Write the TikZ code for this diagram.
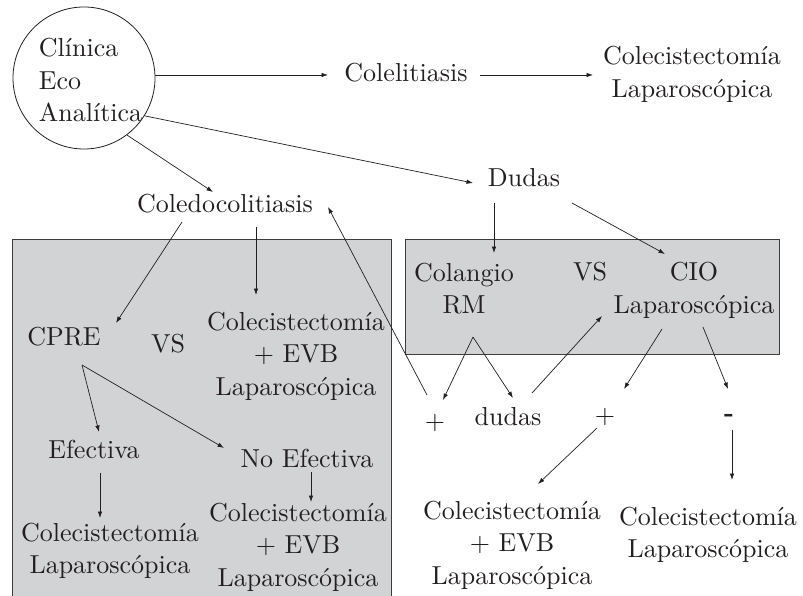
\documentclass[tikz,border=0pt]{standalone}
\usepackage{fontspec}
\setmainfont{lmroman10-regular.otf}[BoldFont=lmroman10-bold.otf]
\usetikzlibrary{arrows.meta,calc}
\definecolor{boxfill}{RGB}{210,211,213}
\definecolor{boxline}{RGB}{60,60,60}
\definecolor{ink}{RGB}{35,31,32}
\begin{document}
\begin{tikzpicture}[x=1pt,y=-1pt,
  every node/.style={inner sep=0pt,text=ink,font=\fontsize{26}{32.5}\selectfont},
  txt/.style={align=center},
  arr/.style={draw=ink,line width=0.7pt,-{Latex[length=6.5pt,width=4.5pt]}},
  panel/.style={fill=boxfill,draw=boxline,line width=0.9pt}]
\useasboundingbox (0,0) rectangle (803,596);
% panels
\draw[panel] (12,239) rectangle (391,600);
\draw[panel] (405,239) rectangle (779,354);
% nodes
\node[circle,draw=ink,line width=0.8pt,minimum size=142pt] (circ) at (84,78) {};
\node[align=left] (circtext) at (90.5,80) {Clínica\\Eco\\Analítica};
\node[anchor=base] (colel) at (406,82) {Colelitiasis};
\node[txt] (topr) at (692,74.5) {Colecistectomía\\Laparoscópica};
\node[anchor=base] (dudas1) at (524,187) {Dudas};
\node[anchor=base] (coledo) at (225,213) {Coledocolitiasis};
\node[anchor=base] (cpre) at (64,345) {CPRE};
\node[anchor=base] (vs1) at (168,352) {VS};
\node[txt] (evb1) at (296,356) {Colecistectomía\\+ EVB\\Laparoscópica};
\node[anchor=base] (efec) at (94,458) {Efectiva};
\node[anchor=base] (noefec) at (307,467) {No Efectiva};
\node[txt] (blk1) at (110,551) {Colecistectomía\\Laparoscópica};
\node[txt] (blk2) at (298,547) {Colecistectomía\\+ EVB\\Laparoscópica};
\node[txt] (colrm) at (464,288.5) {Colangio\\RM};
\node[anchor=base] (vs2) at (590,280) {VS};
\node[txt] (cio) at (694,290.5) {CIO\\Laparoscópica};
\node (plus1) at (435,423) {+};
\node[anchor=base] (dudas2) at (508,425) {dudas};
\node (plus2) at (605,417) {+};
\node (minus) at (729,418) {\textbf{-}};
\node[txt] (blk3) at (512,545) {Colecistectomía\\+ EVB\\Laparoscópica};
\node[txt] (blk4) at (708,535) {Colecistectomía\\Laparoscópica};
% connectors
\draw[arr] ([shift={(0,-3)}]circ.east) -- ([shift={(-78,-7)}]colel.base);
\draw[arr] ([shift={(74,-7)}]colel.base) -- ([shift={(-99,0.5)}]topr.center);
\draw[arr] (circ.-53) -- ([shift={(-12,-21)}]coledo.base);
\draw[arr] (circ.-32) -- ([shift={(-51,-4)}]dudas1.base);
\draw[arr] ([shift={(-43,9)}]coledo.base) -- ([shift={(52,-22)}]cpre.base);
\draw[arr] ([shift={(31,14)}]coledo.base) -- ([shift={(-40,-61)}]evb1.center);
\draw[arr] ([shift={(18,20)}]cpre.base) -- ([shift={(5,-26)}]efec.base);
\draw[arr] ([shift={(18,20)}]cpre.base) -- ([shift={(-83,-19)}]noefec.base);
\draw[arr] ([shift={(6,15)}]efec.base) -- ([shift={(-10,-33)}]blk1.center);
\draw[arr] ([shift={(4,5)}]noefec.base) -- ([shift={(13,-45)}]blk2.center);
\draw[arr] ([shift={(-30,16)}]dudas1.base) -- ([shift={(30,-35.5)}]colrm.center);
\draw[arr] ([shift={(48,16)}]dudas1.base) -- ([shift={(-29,-36.5)}]cio.center);
\draw[arr] ([shift={(9,48.5)}]colrm.center) -- ([shift={(8,-23)}]plus1.center);
\draw[arr] ([shift={(9,48.5)}]colrm.center) -- ([shift={(5,-27)}]dudas2.base);
\draw[arr] ([shift={(-8,-28)}]plus1.center) -- ([shift={(103,-6)}]coledo.base);
\draw[arr] ([shift={(24,-32)}]dudas2.base) -- ([shift={(-92,25.5)}]cio.center);
\draw[arr] ([shift={(-32,38.5)}]cio.center) -- ([shift={(19,-28)}]plus2.center);
\draw[arr] ([shift={(9,36.5)}]cio.center) -- ([shift={(-1,-29)}]minus.center);
\draw[arr] ([shift={(-8,11)}]plus2.center) -- ([shift={(26,-61)}]blk3.center);
\draw[arr] ([shift={(3,12)}]minus.center) -- ([shift={(24,-55)}]blk4.center);
\end{tikzpicture}
\end{document}
